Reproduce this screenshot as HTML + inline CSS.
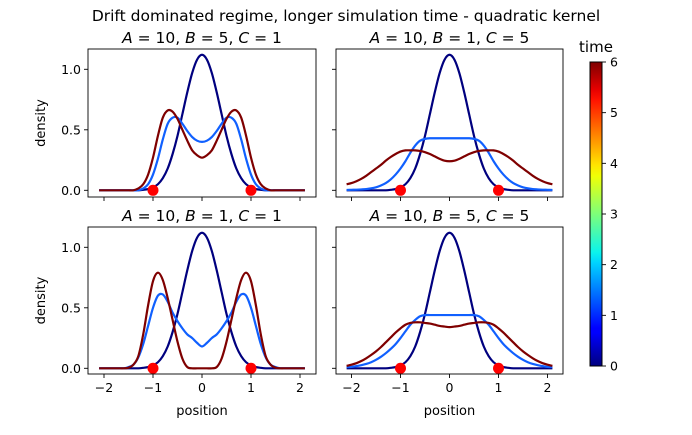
<!DOCTYPE html>
<html><head><meta charset="utf-8"><style>
body{margin:0;background:#fff;}
svg text{font-family:"DejaVu Sans","Liberation Sans",sans-serif;fill:#000;}
</style></head><body>
<svg id="fig" width="692" height="430" viewBox="0 0 692 430" xmlns="http://www.w3.org/2000/svg">
<defs>
<linearGradient id="jet" x1="0" y1="1" x2="0" y2="0">
<stop offset="0" stop-color="#00007f"/><stop offset="0.11" stop-color="#0000ff"/>
<stop offset="0.125" stop-color="#0000ff"/><stop offset="0.34" stop-color="#00d4ff"/>
<stop offset="0.375" stop-color="#0cf4eb"/><stop offset="0.5" stop-color="#7dff7a"/>
<stop offset="0.625" stop-color="#f0ff06"/><stop offset="0.66" stop-color="#ffe600"/>
<stop offset="0.875" stop-color="#ff1300"/><stop offset="0.91" stop-color="#e60000"/>
<stop offset="1" stop-color="#7f0000"/></linearGradient>
</defs>
<text x="346" y="21" font-size="15.5" text-anchor="middle">Drift dominated regime, longer simulation time - quadratic kernel</text>
<g id="panels"></g>
<g>
<rect x="590" y="62" width="12" height="304" fill="url(#jet)" stroke="#000" stroke-width="1"/>
<text x="596" y="52" font-size="15" text-anchor="middle">time</text>
<g id="cbticks"></g>
</g>
</svg>
<script>
// shared x grid (0..2.1, mirrored to negative side)
const xHalf = [0,0.1,0.2,0.3,0.4,0.5,0.6,0.7,0.8,0.9,1.0,1.1,1.2,1.3,1.4,1.5,1.6,1.7,1.8,1.9,2.0,2.1];
const initialDensity = [1.12,1.08,0.97,0.81,0.63,0.45,0.30,0.18,0.10,0.05,0.025,0.01,0.004,0,0,0,0,0,0,0,0,0];
const tlMid = [0.40,0.41,0.44,0.49,0.55,0.60,0.60,0.55,0.42,0.26,0.13,0.05,0.015,0,0,0,0,0,0,0,0,0];
const tlEnd = [0.27,0.29,0.33,0.41,0.50,0.59,0.65,0.66,0.60,0.45,0.27,0.13,0.05,0.015,0,0,0,0,0,0,0,0];
const trMid = [0.43,0.43,0.43,0.43,0.43,0.425,0.41,0.37,0.31,0.24,0.18,0.13,0.09,0.06,0.04,0.025,0.016,0.01,0.007,0.005,0.004,0.003];
const trEnd = [0.24,0.245,0.26,0.28,0.30,0.315,0.325,0.33,0.33,0.33,0.32,0.30,0.275,0.245,0.21,0.18,0.15,0.12,0.095,0.075,0.06,0.05];
const blMid = [0.18,0.21,0.25,0.28,0.33,0.39,0.46,0.55,0.61,0.60,0.50,0.35,0.20,0.09,0.03,0.01,0,0,0,0,0,0];
const blEnd = [0,0,0,0.01,0.08,0.22,0.40,0.58,0.73,0.79,0.72,0.52,0.28,0.10,0.03,0.005,0,0,0,0,0,0];
const brMid = [0.44,0.44,0.44,0.44,0.44,0.44,0.43,0.40,0.36,0.305,0.25,0.20,0.16,0.125,0.095,0.07,0.05,0.036,0.026,0.018,0.012,0.01];
const brEnd = [0.34,0.345,0.35,0.36,0.37,0.375,0.38,0.38,0.375,0.36,0.33,0.295,0.255,0.215,0.175,0.14,0.11,0.083,0.06,0.042,0.03,0.02];
const anchorsX = [-1,1];
const xTicks = [-2,-1,0,1,2];
const yTicks = [0,0.5,1.0];
const yTickLabels = ["0.0","0.5","1.0"];
const cbTicks = [0,1,2,3,4,5,6];
const titleB = [5,1,1,5];
const titleC = [1,5,1,5];

const NS="http://www.w3.org/2000/svg";
function mk(tag,attrs,parent){const e=document.createElementNS(NS,tag);for(const k in attrs)e.setAttribute(k,attrs[k]);parent.appendChild(e);return e;}
const panelsG=document.getElementById('panels');
const boxes=[{x0:88,x1:316,y0:49,y1:197,zero:190.3},{x0:336,x1:563,y0:49,y1:197,zero:190.3},
             {x0:88,x1:316,y0:227,y1:374,zero:368.3},{x0:336,x1:563,y0:227,y1:374,zero:368.3}];
const series=[[initialDensity,tlMid,tlEnd],[initialDensity,trMid,trEnd],[initialDensity,blMid,blEnd],[initialDensity,brMid,brEnd]];
const colors=["#00007f","#1060ff","#7f0000"];
const names=["initial-density-line","mid-time-density-line","final-density-line"];
const pk=["top-left","top-right","bottom-left","bottom-right"];
function fullCurve(h){const xs=[],ys=[];for(let i=h.length-1;i>0;i--){xs.push(-xHalf[i]);ys.push(h[i]);}for(let i=0;i<h.length;i++){xs.push(xHalf[i]);ys.push(h[i]);}return [xs,ys];}
function smoothPath(pts){let d=`M${pts[0][0]},${pts[0][1]}`;for(let i=0;i<pts.length-1;i++){const p0=pts[Math.max(0,i-1)],p1=pts[i],p2=pts[i+1],p3=pts[Math.min(pts.length-1,i+2)];
d+=` C${p1[0]+(p2[0]-p0[0])/6},${p1[1]+(p2[1]-p0[1])/6} ${p2[0]-(p3[0]-p1[0])/6},${p2[1]-(p3[1]-p1[1])/6} ${p2[0]},${p2[1]}`;}return d;}
boxes.forEach((b,pi)=>{
  const sx=v=>(b.x0+b.x1)/2+v*49, sy=v=>b.zero-v*121;
  const g=mk('g',{},panelsG);
  
  
  const t=mk('text',{x:(b.x0+b.x1)/2,y:b.y0-6,'font-size':15.5,'text-anchor':'middle'},g);
  t.innerHTML=`<tspan font-style="italic">A</tspan> = 10, <tspan font-style="italic">B</tspan> = ${titleB[pi]}, <tspan font-style="italic">C</tspan> = ${titleC[pi]}`;
  
  
  series[pi].forEach((s,si)=>{
    const [xs,ys]=fullCurve(s);
    const pts=xs.map((x,i)=>[sx(x),sy(ys[i])]);
    const p=mk('path',{d:smoothPath(pts),fill:'none',stroke:colors[si],'stroke-width':2.2,'stroke-linejoin':'round'},g);
    
    
  });
  anchorsX.forEach(a=>{
    const c=mk('circle',{cx:sx(a),cy:sy(0),r:5.5,fill:'#ff0000'},g);
    
    
  });
  const fr=mk('rect',{x:b.x0,y:b.y0,width:b.x1-b.x0,height:b.y1-b.y0,fill:'none',stroke:'#000','stroke-width':0.9},g);
  
  
  xTicks.forEach(v=>{
    mk('line',{x1:sx(v),x2:sx(v),y1:b.y1,y2:b.y1+4,stroke:'#000','stroke-width':0.9},g);
    if(pi>=2){const tl=mk('text',{x:sx(v),y:b.y1+18,'font-size':12.5,'text-anchor':'middle'},g);tl.textContent=(v<0?'\u2212'+(-v):String(v));
      
      }
  });
  yTicks.forEach((v,i)=>{
    mk('line',{x1:b.x0-4,x2:b.x0,y1:sy(v),y2:sy(v),stroke:'#000','stroke-width':0.9},g);
    if(pi%2===0){const tl=mk('text',{x:b.x0-7,y:sy(v)+4.5,'font-size':12.5,'text-anchor':'end'},g);tl.textContent=yTickLabels[i];
      
      }
  });
  if(pi%2===0){const yl=mk('text',{x:0,y:0,'font-size':13,'text-anchor':'middle',transform:`translate(45,${(b.y0+b.y1)/2}) rotate(-90)`},g);yl.textContent='density';
    
    }
  if(pi>=2){const xl=mk('text',{x:(b.x0+b.x1)/2,y:415,'font-size':13,'text-anchor':'middle'},g);xl.textContent='position';
    
    }
});
const cbg=document.getElementById('cbticks');
cbTicks.forEach(v=>{
  const y=366-v*(304/6);
  mk('line',{x1:602,x2:606,y1:y,y2:y,stroke:'#000','stroke-width':0.9},cbg);
  const t=mk('text',{x:610,y:y+4.5,'font-size':12.5},cbg);t.textContent=String(v);
  
  
});
</script>
</body></html>
